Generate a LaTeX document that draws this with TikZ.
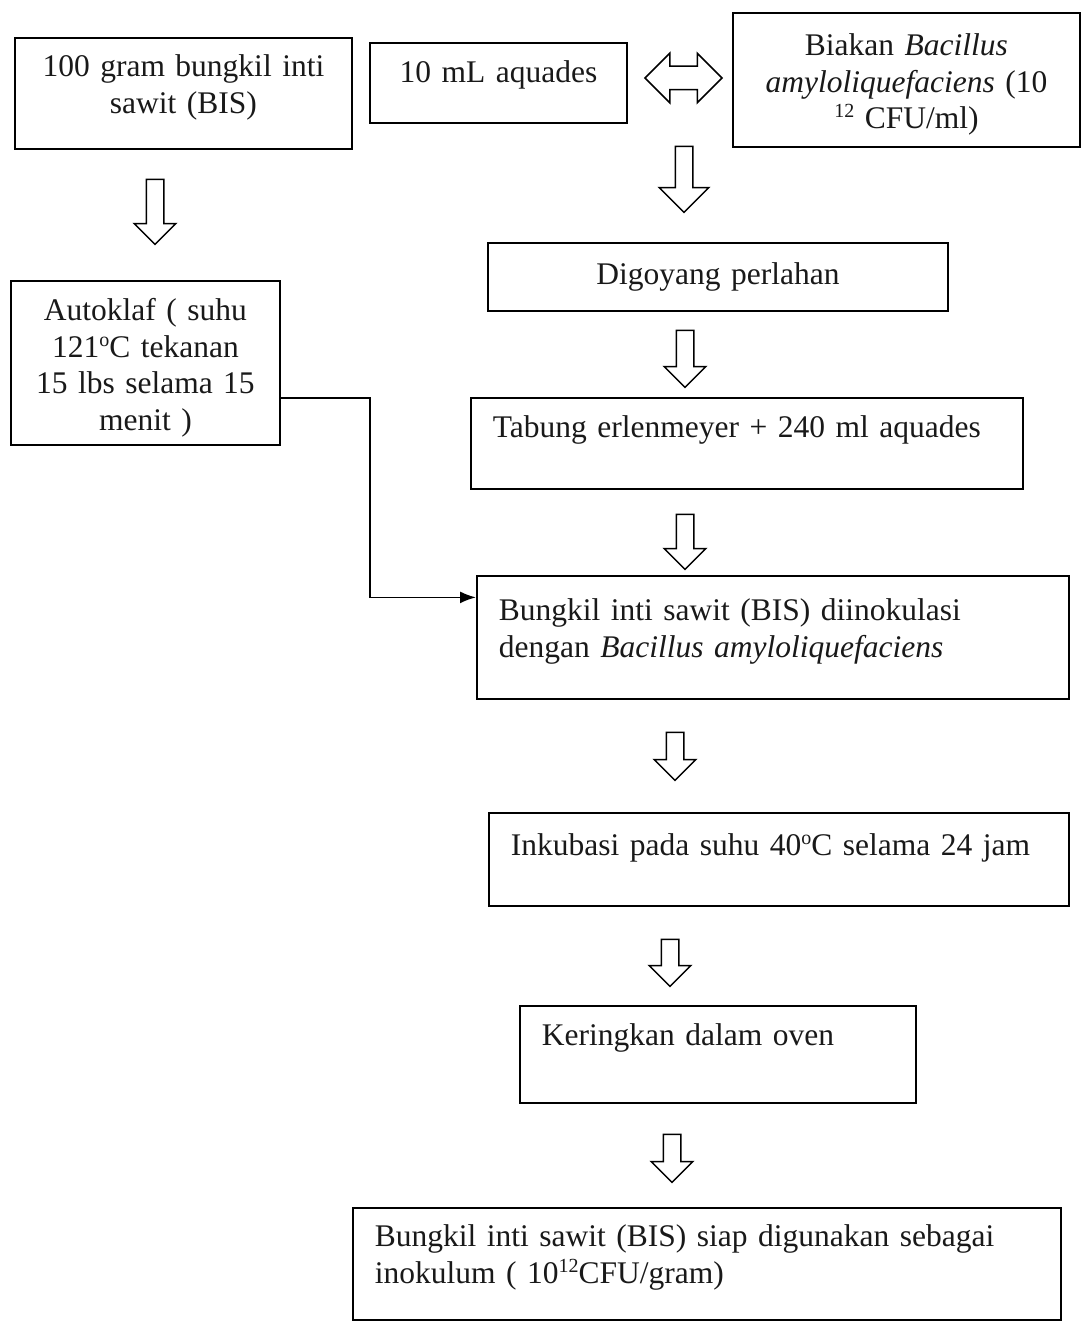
\documentclass[tikz,border=0pt]{standalone}
\usepackage{fontspec}
\setmainfont{Liberation Serif}
\usepackage{tikz}
\usetikzlibrary{arrows.meta, shapes.arrows, calc}
\newcommand{\upidx}[1]{\smash{\raisebox{11pt}{\fontsize{20}{20}\selectfont #1}}}

\begin{document}
\begin{tikzpicture}[
  x=1pt, y=-1pt,
  stepbox/.style={draw, line width=1.8pt, anchor=north west, inner xsep=22pt, inner ysep=0pt,
    align=left, text=black!90, font=\fontsize{31.5}{36.5}\selectfont},
  midbox/.style={stepbox, inner xsep=10pt, align=center},
  downarrow/.style={single arrow, draw, line width=1.5pt, inner xsep=0pt, inner ysep=8pt,
    minimum width=40pt, single arrow head extend=12pt, minimum height=#1, rotate=-90},
  swaparrow/.style={double arrow, draw, line width=1.5pt, inner xsep=0pt, inner ysep=11pt,
    minimum width=48pt, double arrow head extend=13pt, minimum height=77pt},
  link/.style={line width=1.8pt, -{Latex[length=16pt, width=12pt]}}
]
  \useasboundingbox (0,0) rectangle (1081,1321);
  % top row
  \node[midbox, text width=317pt, text height=39pt, text depth=72pt] (bis) at (14,37)
    {100 gram bungkil inti\\sawit (BIS)};
  \node[midbox, text width=237pt, text height=40pt, text depth=40pt] (aqua) at (369,42)
    {10 mL aquades};
  \node[midbox, text width=327pt, text height=43pt, text depth=91pt] (biakan) at (732,12)
    {Biakan \textit{Bacillus}\\\textit{amyloliquefaciens} (10\\\upidx{12} CFU/ml)};
  \node[swaparrow] (mix) at (683.5,78) {};
  % left branch
  \node[downarrow=65pt] (arrA) at (155,207.5) {};
  \node[midbox, text width=249pt, text height=40pt, text depth=124pt] (auto) at (10,280)
    {Autoklaf ( suhu\\121\upidx{o}C tekanan\\15 lbs selama 15\\menit )};
  % right branch
  \node[downarrow=66pt, minimum width=48pt, single arrow head extend=16pt] (arrB) at (684,175) {};
  \node[midbox, text width=440pt, text height=42pt, text depth=26pt] (goyang) at (487,242)
    {Digoyang perlahan};
  \node[downarrow=57pt] (arrC) at (685,354.5) {};
  \node[stepbox, text width=508pt, text height=40pt, text depth=51pt] (tabung) at (470,397)
    {Tabung erlenmeyer + 240 ml aquades};
  \node[downarrow=55pt] (arrD) at (685,537.5) {};
  \node[stepbox, text width=548pt, text height=45pt, text depth=78pt] (inok) at (476,575)
    {Bungkil inti sawit (BIS) diinokulasi\\dengan \textit{Bacillus amyloliquefaciens}};
  \draw[link] ([yshift=-35pt]auto.east) -- ++(89,0) |- ([yshift=40pt]inok.west);
  \node[downarrow=48pt] (arrE) at (675,752) {};
  \node[stepbox, text width=536pt, text height=43pt, text depth=50pt] (inkub) at (488,812)
    {Inkubasi pada suhu 40\upidx{o}C selama 24 jam};
  \node[downarrow=47pt] (arrF) at (670,958.5) {};
  \node[stepbox, text width=352pt, text height=40pt, text depth=57pt] (oven) at (519,1005)
    {Keringkan dalam oven};
  \node[downarrow=48pt] (arrG) at (672,1154) {};
  \node[stepbox, text width=664pt, text height=39pt, text depth=73pt] (siap) at (352,1207)
    {Bungkil inti sawit (BIS) siap digunakan sebagai\\inokulum ( 10\upidx{12}CFU/gram)};
\end{tikzpicture}
\end{document}
